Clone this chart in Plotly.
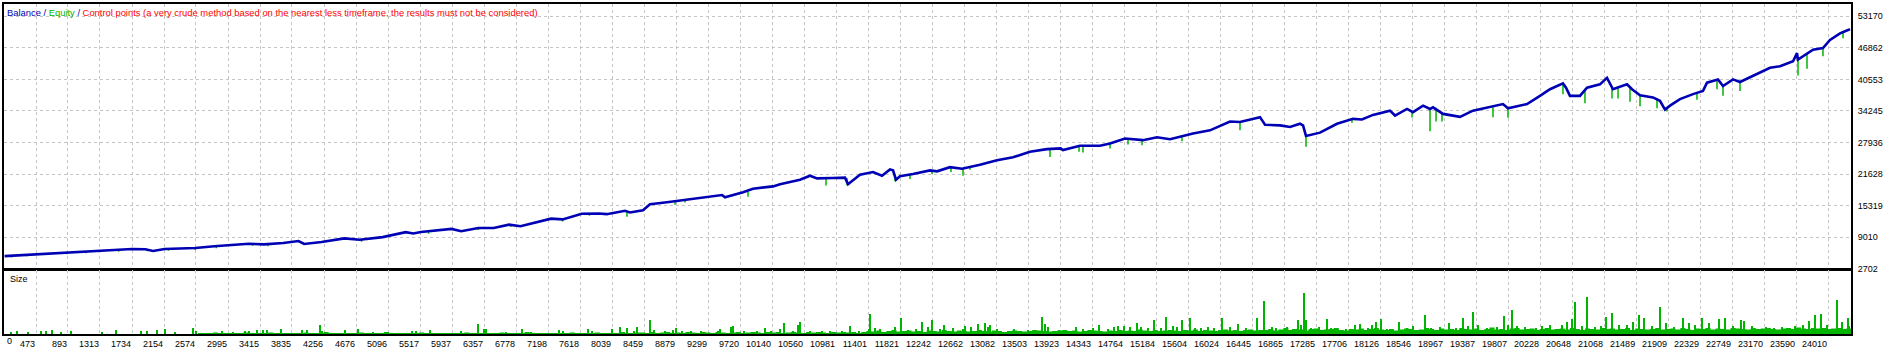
import plotly.graph_objects as go

W, H = 1896, 356
BLUE = "#0000B4"
GREEN = "#00B400"
RED = "#FF0000"
GRID = "#C4C4C4"
FONT = "Liberation Sans, Arial, sans-serif"

# ---------------- data ----------------
# Balance curve: trade number -> balance
bal_t = [60, 478, 905, 1307, 1734, 1910, 2010, 2162, 2564, 2815,
         3016, 3268, 3467, 3720, 3921, 3995, 4223, 4523, 4724, 5026,
         5328, 5428, 5529, 5931, 6057, 6283, 6484, 6685, 6836, 7238,
         7389, 7640, 7866, 7968, 8209, 8274, 8445, 8537, 8760,
         8892, 9286, 9483, 9522, 9759, 9890, 10153, 10245, 10507, 10639,
         10730, 10941, 11098, 11138, 11295, 11466, 11584, 11689, 11729, 11768,
         11821, 11991, 12215, 12307, 12477, 12635, 12871, 13095, 13305, 13528,
         13751, 13930, 13961, 14185, 14447, 14579, 14776, 15012, 15196, 15367,
         15669, 15892, 16155, 16286, 16549, 16615, 16812, 16943, 17074, 17114,
         17153, 17337, 17560, 17770, 17888, 18033, 18256, 18322, 18480, 18558,
         18690, 18782, 18821, 18952, 19176, 19346, 19570, 19740, 19806, 20056,
         20226, 20358, 20528, 20568, 20620, 20751, 20844, 21014, 21106, 21146,
         21185, 21369, 21435, 21540, 21710, 21802, 21868, 21934, 22065, 22236,
         22367, 22420, 22564, 22630, 22761, 22853, 23076, 23247, 23379, 23550,
         23602, 23615, 23812, 23943, 24035, 24167, 24272, 24298]
bal_v = [5205, 5600, 5990, 6310, 6640, 6580, 6250, 6640, 6840, 7180,
         7430, 7690, 7560, 7830, 8220, 7630, 8020, 8750, 8480, 9010,
         10000, 9740, 10050, 10650, 10190, 10840, 10840, 11510, 11180, 12700,
         12560, 13680, 13740, 13600, 14270, 13940, 14400, 15580, 15970,
         16240, 17030, 17420, 16960, 17970, 18700, 19150, 19600, 20500, 21280,
         20750, 20840, 20900, 19600, 21500, 22020, 21290, 22550, 22360, 20500,
         21170, 21630, 22350, 22160, 23000, 22670, 23460, 24380, 24980, 26100,
         26600, 26750, 26420, 27280, 27280, 27740, 28720, 28400, 28980, 28580,
         29710, 30360, 32130, 32020, 33000, 31480, 31350, 31030, 31680, 31350,
         29240, 29900, 31680, 32660, 32530, 33450, 34300, 33320, 34640, 33990,
         35290, 34640, 34960, 33650, 33060, 34300, 34970, 35620, 34770, 35620,
         37260, 38580, 39760, 38900, 37260, 37260, 38900, 39550, 40860, 39760,
         38580, 39570, 38580, 37390, 36940, 36280, 34520, 35300, 36610, 37600,
         38250, 39890, 40550, 39230, 40550, 40020, 41540, 42860, 43180, 44160,
         45810, 44500, 46470, 46800, 48440, 49750, 50410, 50600]

# Equity drawdowns below the balance: (trade, equity at top, equity low)
equity_dips = [
    (151, 5300, 4950), (352, 5520, 5170), (880, 5970, 5610), (1130, 6150, 5790),
    (1558, 6450, 6100), (1935, 6560, 6200), (2212, 6640, 6290), (2564, 6840, 6450),
    (2840, 7180, 6800), (3318, 7690, 7300), (3519, 7560, 7200), (4749, 8480, 8100),
    (5629, 10100, 9700), (6283, 10840, 10450), (6710, 11500, 11100), (7389, 12560, 12150),
    (7741, 13700, 13300), (8235, 14270, 13090), (8866, 16110, 15460), (8997, 16240, 15910),
    (9824, 18080, 17090), (10849, 20840, 19320), (11124, 20840, 19400), (11755, 21500, 20190),
    (11952, 21500, 20640), (12241, 22350, 21630), (12490, 23000, 22020), (12648, 22670, 21290),
    (12740, 23000, 22480), (13791, 26600, 25040), (14172, 27280, 26100), (14224, 27280, 25910),
    (14579, 27740, 26750), (14815, 28720, 27540), (14999, 28400, 27400), (15524, 29300, 28190),
    (16286, 32000, 30360), (17153, 29240, 27090), (17757, 32660, 31880), (18545, 34000, 32920),
    (18782, 34640, 30160), (18861, 34900, 32140), (18939, 33700, 32140), (19609, 34970, 33000),
    (19806, 34770, 32860), (20528, 39760, 37600), (20817, 38700, 35760), (21172, 39000, 36750),
    (21251, 38800, 36750), (21408, 39000, 36080), (21540, 37390, 35170), (21763, 36500, 34780),
    (21894, 35000, 34110), (22288, 37800, 36470), (22551, 40500, 38580), (22630, 39230, 37260),
    (22853, 40020, 38250), (23615, 44500, 41340), (23733, 45500, 42660), (23943, 46800, 45150),
    (24206, 49900, 48770),
]

# Position size: notable trades (trade, lots)
size_spikes = [
    (144, 0.17), (223, 0.23), (368, 0.17), (538, 0.23), (604, 0.23), (683, 0.37), (801, 0.17),
    (933, 0.23), (1340, 0.17), (1524, 0.37), (1852, 0.23), (1931, 0.23), (2062, 0.37), (2167, 0.43),
    (2298, 0.17), (2535, 0.57), (2574, 0.23), (2916, 0.23), (3060, 0.17), (3218, 0.23), (3270, 0.3),
    (3375, 0.37), (3454, 0.37), (3507, 0.37), (3691, 0.5), (3966, 0.37), (4032, 0.37), (4203, 0.87),
    (4229, 0.23), (4531, 0.37), (4702, 0.5), (4899, 0.17), (5411, 0.27), (5464, 0.27), (5648, 0.37),
    (6055, 0.23), (6278, 0.93), (6357, 0.43), (6383, 0.43), (6646, 0.17), (6856, 0.5), (6974, 0.17),
    (7342, 0.37), (7394, 0.3), (7723, 0.5), (7775, 0.3), (8038, 0.43), (8143, 0.67), (8235, 0.57),
    (8327, 0.23), (8366, 0.7), (8537, 1.37), (8590, 0.37), (8734, 0.23), (8839, 0.37), (8879, 0.57),
    (8957, 0.23), (9076, 0.23), (9207, 0.23), (9430, 0.3), (9456, 0.43), (9601, 0.7), (9627, 0.77),
    (9772, 0.23), (9942, 0.3), (10048, 0.57), (10126, 0.23), (10245, 0.43), (10297, 1.03), (10415, 0.23),
    (10481, 0.9), (10507, 1.17), (10639, 0.23), (10796, 0.3), (10901, 0.23), (11059, 0.23), (11164, 0.77),
    (11282, 0.3), (11413, 0.5), (11427, 1.93), (11492, 0.57), (11558, 0.43), (11702, 0.3), (11755, 0.63),
    (11834, 1.57), (11926, 0.37), (12031, 0.43), (12110, 1.17), (12188, 0.63), (12241, 1.37), (12346, 0.43),
    (12398, 0.9), (12517, 0.57), (12648, 0.43), (12674, 0.77), (12753, 0.67), (12845, 1.0), (12937, 1.1),
    (12976, 0.63), (13003, 0.9), (13095, 0.43), (13318, 0.5), (13502, 0.37), (13686, 1.67), (13725, 0.93),
    (13764, 0.7), (13909, 0.37), (14132, 0.63), (14224, 0.5), (14355, 0.57), (14434, 0.83), (14552, 0.43),
    (14631, 0.63), (14684, 0.77), (14763, 0.77), (14841, 0.63), (14933, 1.1), (14986, 0.7), (15078, 0.57),
    (15157, 1.37), (15249, 0.57), (15314, 1.67), (15406, 0.77), (15459, 0.63), (15524, 1.37), (15629, 1.57),
    (15695, 0.57), (15774, 0.57), (15866, 0.7), (15945, 0.57), (16050, 1.57), (16155, 0.7), (16260, 0.93),
    (16365, 0.57), (16509, 1.57), (16601, 3.27), (16706, 0.67), (16759, 0.57), (16903, 0.63), (16982, 0.43),
    (17048, 1.37), (17087, 0.9), (17127, 4.07), (17153, 1.37), (17219, 0.57), (17324, 0.63), (17429, 1.43),
    (17481, 0.57), (17573, 0.5), (17678, 0.43), (17797, 0.9), (17862, 0.97), (17967, 0.57), (18020, 0.9),
    (18072, 1.17), (18138, 1.43), (18217, 0.43), (18374, 1.17), (18480, 0.57), (18558, 0.77), (18716, 1.83),
    (18795, 0.57), (18913, 0.63), (19031, 1.1), (19123, 0.57), (19215, 1.57), (19281, 0.77), (19346, 2.17),
    (19412, 0.9), (19530, 0.57), (19662, 0.63), (19754, 1.77), (19806, 0.9), (19859, 2.37), (19924, 0.77),
    (20029, 0.63), (20174, 0.57), (20253, 0.77), (20358, 0.9), (20515, 0.9), (20581, 1.17), (20647, 1.43),
    (20686, 3.2), (20778, 0.77), (20844, 3.67), (20949, 0.63), (21028, 0.77), (21093, 1.67), (21172, 2.1),
    (21264, 0.9), (21369, 0.83), (21448, 1.17), (21527, 1.87), (21592, 1.57), (21697, 0.77), (21802, 2.67),
    (21881, 1.1), (21986, 0.7), (22104, 1.57), (22183, 1.03), (22262, 0.9), (22354, 1.57), (22446, 1.1),
    (22577, 1.5), (22656, 1.57), (22761, 0.77), (22866, 1.37), (22906, 1.27), (23011, 0.77), (23195, 0.7),
    (23300, 0.57), (23405, 0.63), (23576, 0.77), (23681, 0.83), (23759, 1.23), (23838, 1.9), (23917, 1.97),
    (23996, 0.83), (24127, 3.37), (24193, 1.17), (24272, 1.57), (24290, 0.77),
]

# Typical (small) position sizes, one value per block of 66 trades starting at trade 2600
size_floor_start = 2600
size_floor_step = 66
size_floor = [
    0.1, 0.1, 0.1, 0.15, 0.1, 0.1, 0.1, 0.1, 0.1, 0.15,
    0.1, 0.1, 0.1, 0.1, 0.15, 0.1, 0.1, 0.1, 0.1, 0.1,
    0.1, 0.15, 0.1, 0.1, 0.1, 0.2, 0.1, 0.1, 0.1, 0.1,
    0.1, 0.1, 0.15, 0.1, 0.1, 0.1, 0.1, 0.2, 0.1, 0.1,
    0.1, 0.1, 0.1, 0.1, 0.15, 0.1, 0.1, 0.1, 0.1, 0.1,
    0.1, 0.1, 0.1, 0.15, 0.1, 0.1, 0.1, 0.1, 0.1, 0.1,
    0.15, 0.1, 0.1, 0.1, 0.1, 0.2, 0.1, 0.1, 0.1, 0.1,
    0.1, 0.1, 0.1, 0.1, 0.15, 0.1, 0.1, 0.1, 0.1, 0.15,
    0.1, 0.1, 0.1, 0.1, 0.2, 0.1, 0.1, 0.15,
    0.15, 0.1, 0.2, 0.1, 0.15, 0.2, 0.1, 0.15, 0.1, 0.2,
    0.15, 0.1, 0.2, 0.15, 0.1, 0.2, 0.15, 0.1, 0.15, 0.2,
    0.1, 0.15, 0.2, 0.15, 0.1, 0.2, 0.15, 0.2, 0.1, 0.15,
    0.2, 0.15, 0.1, 0.2, 0.15, 0.2, 0.15, 0.1, 0.2, 0.15,
    0.2, 0.15, 0.2, 0.1, 0.2,
    0.3, 0.25, 0.35, 0.2, 0.3, 0.4, 0.25, 0.3, 0.35, 0.25,
    0.3, 0.2, 0.35, 0.3, 0.25, 0.4, 0.3, 0.25, 0.35, 0.3,
    0.25, 0.3, 0.4, 0.3, 0.25, 0.35, 0.3, 0.2, 0.3, 0.35,
    0.3, 0.25, 0.3, 0.4, 0.35, 0.3, 0.25, 0.3, 0.35, 0.4,
    0.3, 0.35, 0.25, 0.3, 0.4, 0.35, 0.3, 0.25, 0.35, 0.3,
    0.4, 0.3, 0.35, 0.3, 0.45, 0.35, 0.3, 0.4, 0.3, 0.35,
    0.4, 0.35, 0.3, 0.4, 0.35, 0.45, 0.3, 0.4, 0.35, 0.3,
    0.4, 0.45, 0.35, 0.4, 0.3, 0.4, 0.45, 0.35, 0.4,
    0.4, 0.5, 0.35, 0.45, 0.6, 0.4, 0.5, 0.45, 0.35, 0.5,
    0.55, 0.4, 0.45, 0.5, 0.6, 0.4, 0.35, 0.5, 0.45, 0.55,
    0.4, 0.5, 0.6, 0.45, 0.4, 0.5, 0.35, 0.45, 0.55, 0.5,
    0.4, 0.45, 0.6, 0.5, 0.4, 0.55, 0.45, 0.5, 0.4, 0.6,
    0.5, 0.45, 0.55, 0.4, 0.5, 0.65, 0.45, 0.5, 0.4, 0.55,
    0.6, 0.45, 0.5, 0.55, 0.4, 0.5, 0.6, 0.45, 0.5, 0.55,
    0.45, 0.6, 0.5, 0.4, 0.55, 0.5, 0.45, 0.6, 0.5, 0.55,
    0.45, 0.5, 0.6, 0.4, 0.55, 0.5, 0.45, 0.5, 0.6, 0.45,
    0.5, 0.55, 0.45, 0.6, 0.5, 0.4, 0.55, 0.5, 0.6, 0.45,
    0.55, 0.5, 0.45, 0.6, 0.55, 0.5, 0.45, 0.6, 0.5, 0.55,
    0.6, 0.5, 0.45, 0.55, 0.6, 0.5, 0.65, 0.55, 0.5, 0.6,
    0.55, 0.6, 0.5, 0.55, 0.6, 0.5, 0.55,
]

# Axis ticks
y_ticks = [2702, 9010, 15319, 21628, 27936, 34245, 40553, 46862, 53170]
x_tick_labels = ["473", "893", "1313", "1734", "2154", "2574", "2995", "3415", "3835", "4256",
                 "4676", "5096", "5517", "5937", "6357", "6778", "7198", "7618", "8039", "8459",
                 "8879", "9299", "9720", "10140", "10560", "10981", "11401", "11821", "12242", "12662",
                 "13082", "13503", "13923", "14343", "14764", "15184", "15604", "16024", "16445", "16865",
                 "17285", "17706", "18126", "18546", "18967", "19387", "19807", "20228", "20648", "21068",
                 "21489", "21909", "22329", "22749", "23170", "23590", "24010"]
x_first_label = "0"

title_parts = [("Balance", BLUE), (" / ", BLUE), ("Equity", GREEN), (" / ", BLUE),
               ("Control points (a very crude method based on the nearest less timeframe, "
                "the results must not be considered)", RED)]
size_label = "Size"

# ---------------- figure ----------------
x_tick_vals = [int(s) for s in x_tick_labels]
x_range = [52.5, 24311]

fig = go.Figure()

dx, dy = [], []
for t, hi, lo in equity_dips:
    dx += [t, t, None]
    dy += [hi, lo, None]
fig.add_trace(go.Scatter(x=dx, y=dy, mode="lines", line=dict(color=GREEN, width=1.5),
                         xaxis="x", yaxis="y", hoverinfo="skip"))
fig.add_trace(go.Scatter(x=bal_t, y=bal_v, mode="lines", line=dict(color=BLUE, width=2.6),
                         xaxis="x", yaxis="y", hoverinfo="skip"))

floor_t = [size_floor_start + size_floor_step * i for i in range(len(size_floor) + 1)]
floor_v = size_floor + [size_floor[-1]]
fig.add_trace(go.Scatter(x=floor_t, y=floor_v, mode="lines", line=dict(width=0, shape="hv", color=GREEN),
                         fill="tozeroy", fillcolor=GREEN, xaxis="x2", yaxis="y2", hoverinfo="skip"))
fig.add_trace(go.Bar(x=[s[0] for s in size_spikes], y=[s[1] for s in size_spikes], width=16,
                     marker=dict(color=GREEN, line=dict(width=0)), xaxis="x2", yaxis="y2",
                     hoverinfo="skip"))

xdom = [4 / W, 1851 / W]
main_dom = [(H - 272.5) / H, (H - 4) / H]
size_dom = [(H - 338.7) / H, (H - 274.3) / H]
tickfont = dict(family=FONT, size=9, color="#000000")

common_x = dict(domain=xdom, range=x_range, tickvals=x_tick_vals, showgrid=True, gridcolor=GRID,
                gridwidth=1, griddash="3px,3px", showline=True, linecolor="#000000", linewidth=2,
                mirror=True, zeroline=False, ticks="", fixedrange=True)

fig.update_layout(
    width=W, height=H, margin=dict(l=0, r=0, t=0, b=0),
    paper_bgcolor="white", plot_bgcolor="white", showlegend=False, hovermode=False,
    bargap=0,
    xaxis=dict(**common_x, anchor="y", showticklabels=False),
    yaxis=dict(domain=main_dom, range=[2702, 55634], side="right", tickvals=y_ticks,
               ticktext=[str(v) for v in y_ticks], tickfont=tickfont, showgrid=True,
               gridcolor=GRID, gridwidth=1, griddash="3px,3px", showline=True, linecolor="#000000",
               linewidth=2, mirror=True, zeroline=False, ticks="", anchor="x", ticklabelstandoff=3),
    xaxis2=dict(**common_x, anchor="y2", ticktext=x_tick_labels, tickfont=tickfont,
                ticklabelposition="outside left", tickangle=0),
    yaxis2=dict(domain=size_dom, range=[0, 6.44], showticklabels=False, showgrid=False,
                showline=True, linecolor="#000000", linewidth=2, mirror=True, zeroline=False,
                anchor="x2", ticks=""),
)

title_html = "".join(f'<span style="color:{c}">{t}</span>' for t, c in title_parts)
fig.add_annotation(text=title_html, xref="paper", yref="paper", x=5 / W, y=(H - 12.7) / H,
                   xanchor="left", yanchor="middle", showarrow=False,
                   font=dict(family=FONT, size=9.4, color=BLUE))
fig.add_annotation(text=size_label, xref="paper", yref="paper", x=8 / W, y=(H - 283) / H,
                   xanchor="left", yanchor="middle", showarrow=False,
                   font=dict(family=FONT, size=9, color="#000000"))
fig.add_annotation(text=x_first_label, xref="paper", yref="paper", x=5 / W, y=(H - 346) / H,
                   xanchor="left", yanchor="middle", showarrow=False,
                   font=dict(family=FONT, size=9, color="#000000"))

fig.write_html("out.html")
